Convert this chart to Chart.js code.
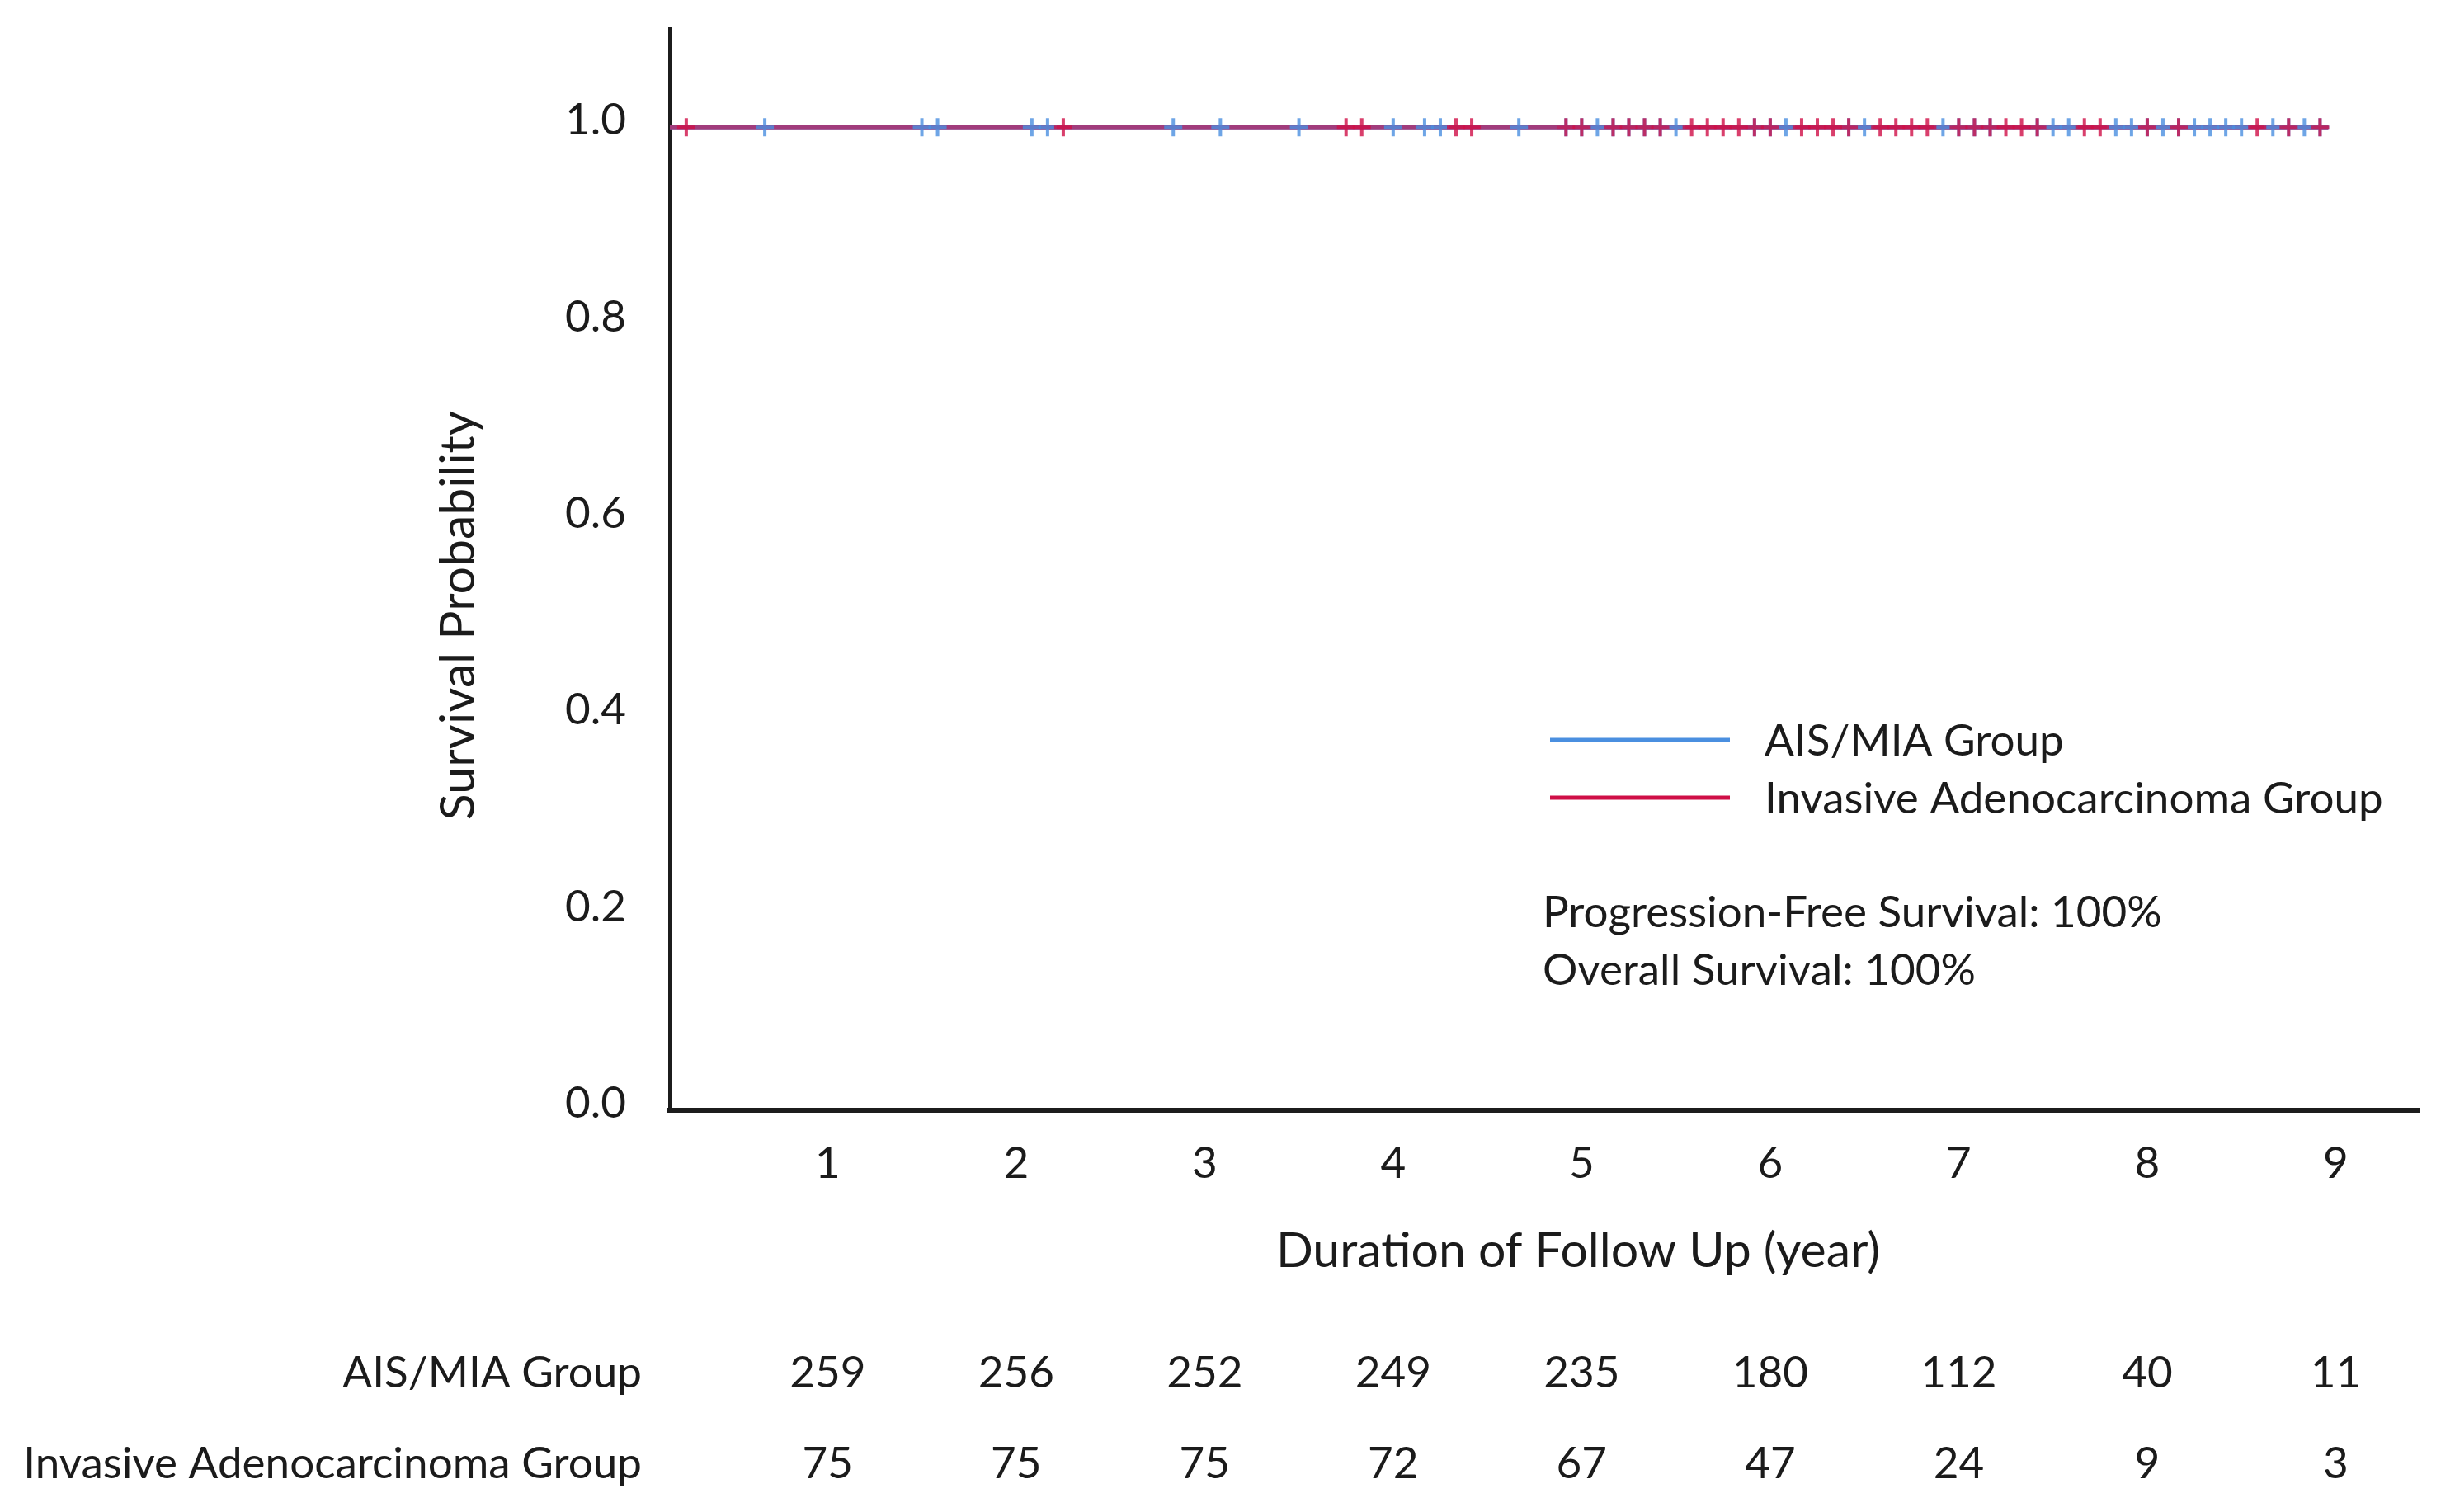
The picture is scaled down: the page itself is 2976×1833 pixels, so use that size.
<!DOCTYPE html>
<html>
<head>
<meta charset="utf-8">
<title>Survival Probability</title>
<script src="https://cdn.jsdelivr.net/npm/chart.js@4.4.1/dist/chart.umd.min.js"></script>
<style>
    html, body { margin: 0; padding: 0; background: #ffffff; }
    canvas { display: block; }
</style>
</head>
<body>
<canvas id="kmChart" width="2976" height="1833"></canvas>
<script>
// Tick labels
const followUpYears = [1, 2, 3, 4, 5, 6, 7, 8, 9];
const survivalTicks = [0, 0.2, 0.4, 0.6, 0.8, 1.0];

// Number at risk (table under the plot)
const groupNames = ['AIS/MIA Group', 'Invasive Adenocarcinoma Group'];
const aisAtRisk = [259, 256, 252, 249, 235, 180, 112, 40, 11];
const iacAtRisk = [75, 75, 75, 72, 67, 47, 24, 9, 3];

// Survival curves (both stay at 1.0 for the whole follow up), time in years
const aisCurveTime = [0.16, 8.96];
const aisCurveSurv = [1.0, 1.0];
const iacCurveTime = [0.16, 8.96];
const iacCurveSurv = [1.0, 1.0];

const aisCensoredMonths = [8, 18, 19, 25, 26, 34, 37, 42, 48, 50, 51, 56,
    59, 60, 61, 62, 63, 64, 65, 66, 71, 72, 73, 77, 78, 83, 84, 85, 86, 89, 90, 91,
    94, 95, 96, 97, 98, 99, 100, 101, 102, 104, 105, 106, 107];
const iacCensoredMonths = [3, 27, 45, 46, 52, 53,
    59, 60, 62, 63, 64, 65, 67, 68, 69, 70, 71, 72, 74, 75, 76, 77, 79, 80, 81, 82,
    84, 85, 86, 87, 88, 89, 92, 93, 96, 98, 103, 105, 107];
const censoredSurv = 1.0;

const blue = '#4a8fe0';
const red = '#cf0f47';
const textColor = '#1b1b1b';
const fontFamily = 'Lato, "Open Sans", sans-serif';
const fontSize = 53;
const titleSize = 59;

function toPoints(xs, ys) {
    return xs.map((x, i) => ({ x: x, y: ys[i] }));
}

function censorPoints(months) {
    return months.map((m) => ({ x: m / 12, y: censoredSurv }));
}

// Draws the axis titles, the legend box, the survival note and the risk table
const extraTextPlugin = {
    id: 'extraText',
    afterDraw(chart) {
        const ctx = chart.ctx;
        const xScale = chart.scales.x;
        ctx.save();
        ctx.fillStyle = textColor;
        ctx.textBaseline = 'middle';

        // axis titles
        ctx.font = `${titleSize}px ${fontFamily}`;
        ctx.save();
        ctx.translate(556, 746);
        ctx.rotate(-Math.PI / 2);
        ctx.textAlign = 'center';
        ctx.fillText('Survival Probability', 0, 0);
        ctx.restore();

        ctx.textAlign = 'center';
        ctx.fillText('Duration of Follow Up (year)', 1913, 1517);

        ctx.font = `${fontSize}px ${fontFamily}`;

        // legend
        const legendRows = [
            { label: groupNames[0], color: blue, y: 897 },
            { label: groupNames[1], color: red, y: 967 }
        ];
        legendRows.forEach((row) => {
            ctx.strokeStyle = row.color;
            ctx.lineWidth = 5;
            ctx.beginPath();
            ctx.moveTo(1879, row.y);
            ctx.lineTo(2097, row.y);
            ctx.stroke();
            ctx.textAlign = 'left';
            ctx.fillText(row.label, 2139, row.y + 2);
        });

        // survival note
        ctx.textAlign = 'left';
        ctx.fillText('Progression-Free Survival: 100%', 1870, 1107);
        ctx.fillText('Overall Survival: 100%', 1870, 1177);

        // number at risk table
        const rows = [aisAtRisk, iacAtRisk];
        const rowY = [1665, 1775];
        rows.forEach((counts, r) => {
            ctx.textAlign = 'right';
            ctx.fillText(groupNames[r], 778, rowY[r]);
            ctx.textAlign = 'center';
            counts.forEach((n, i) => {
                ctx.fillText(String(n), xScale.getPixelForValue(followUpYears[i]), rowY[r]);
            });
        });
        ctx.restore();
    }
};

function drawChart() {
    const ctx = document.getElementById('kmChart').getContext('2d');
    new Chart(ctx, {
        data: {
            datasets: [
                {
                    type: 'line',
                    label: groupNames[0],
                    data: toPoints(aisCurveTime, aisCurveSurv),
                    borderColor: blue,
                    borderWidth: 5,
                    pointRadius: 0,
                    stepped: true,
                    order: 4
                },
                {
                    type: 'line',
                    label: groupNames[1],
                    data: toPoints(iacCurveTime, iacCurveSurv),
                    borderColor: 'rgba(207, 15, 71, 0.65)',
                    borderWidth: 5,
                    pointRadius: 0,
                    stepped: true,
                    order: 3
                },
                {
                    type: 'scatter',
                    label: groupNames[0] + ' censored',
                    data: censorPoints(aisCensoredMonths),
                    pointStyle: 'cross',
                    pointRadius: 11,
                    pointBorderWidth: 4,
                    pointBorderColor: 'rgba(74, 143, 224, 0.8)',
                    order: 2
                },
                {
                    type: 'scatter',
                    label: groupNames[1] + ' censored',
                    data: censorPoints(iacCensoredMonths),
                    pointStyle: 'cross',
                    pointRadius: 11,
                    pointBorderWidth: 4,
                    pointBorderColor: 'rgba(207, 15, 71, 0.8)',
                    order: 1
                }
            ]
        },
        options: {
            responsive: false,
            animation: false,
            devicePixelRatio: 1,
            layout: { padding: { top: 35, right: 44, left: 0, bottom: 0 } },
            plugins: {
                legend: { display: false },
                tooltip: { enabled: false }
            },
            scales: {
                x: {
                    type: 'linear',
                    min: 0.163,
                    max: 9.44,
                    grid: { display: false, drawTicks: false },
                    border: { display: true, color: '#1c1c1c', width: 6 },
                    ticks: {
                        color: textColor,
                        font: { family: fontFamily, size: fontSize },
                        padding: 33
                    },
                    afterBuildTicks: (axis) => {
                        axis.ticks = followUpYears.map((v) => ({ value: v }));
                    },
                    afterFit: (scale) => {
                        scale.height = 487;
                        scale.paddingLeft = 0;
                        scale.paddingRight = 0;
                    }
                },
                y: {
                    type: 'linear',
                    min: 0,
                    max: 1.1,
                    grid: { display: false, drawTicks: false },
                    border: { display: true, color: '#1c1c1c', width: 5 },
                    ticks: {
                        color: textColor,
                        font: { family: fontFamily, size: fontSize },
                        padding: 53,
                        labelOffset: -8,
                        callback: (v) => Number(v).toFixed(1)
                    },
                    afterBuildTicks: (axis) => {
                        axis.ticks = survivalTicks.map((v) => ({ value: v }));
                    },
                    afterFit: (scale) => {
                        scale.width = 812;
                        scale.paddingTop = 0;
                        scale.paddingBottom = 0;
                    }
                }
            }
        },
        plugins: [extraTextPlugin]
    });
}

document.fonts.load(`${fontSize}px Lato`).then(drawChart).catch(drawChart);
</script>
</body>
</html>
